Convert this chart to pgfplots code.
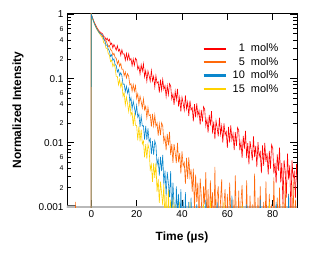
\documentclass[border=0pt]{standalone}
\usepackage{pgfplots}
\pgfplotsset{compat=1.18}
\usepackage{fontspec}
\setmainfont{Liberation Sans}
\definecolor{cRed}{RGB}{255,0,0}
\definecolor{cOrange}{RGB}{255,105,10}
\definecolor{cBlue}{RGB}{10,135,205}
\definecolor{cYellow}{RGB}{255,210,0}
\begin{document}
\begin{tikzpicture}
\begin{axis}[
 at={(67bp,49bp)}, anchor=south west,
 scale only axis, width=230bp, height=194bp,
 ymode=log, xmin=-10.7, xmax=90.7, ymin=0.001, ymax=1.05,
 xtick={0,20,40,60,80},
 ytick={0.001,0.01,0.1,1}, yticklabels={0.001,0.01,0.1,1},
 extra y ticks={0.002,0.004,0.006,0.02,0.04,0.06,0.2,0.4,0.6},
 extra y tick labels={2,4,6,2,4,6,2,4,6},
 extra y tick style={major tick length=4bp, tick label style={font=\fontsize{7}{8}\selectfont}},
 major tick length=7bp, minor tick length=4bp,
 tick align=inside,
 tick style={black, line width=0.6pt},
 axis line style={line width=0.8pt},
 tick label style={font=\fontsize{10}{12}\selectfont},
 /pgf/number format/assume math mode=true,
 xlabel={Time (µs)}, ylabel={Normalized Intensity},
 label style={font=\fontsize{12}{14}\selectfont\bfseries},
 xlabel style={at={(axis description cs:0.5,-0.155)}, anchor=center},
 ylabel style={at={(axis description cs:-0.213,0.5)}, anchor=center},
 legend cell align=right,
 legend style={draw=none, fill=none, at={(axis description cs:0.575,0.862)}, anchor=north west, font=\fontsize{11}{13}\selectfont},
]
\addplot[gray!55, line width=2pt, forget plot] coordinates {(-12,0.001)(92,0.001)};
\addplot[gray!75!black, line width=1pt, forget plot] coordinates {(-10.7,0.00104)(-6.8,0.00104)};
% 1 mol%
\addplot[cRed, line width=0.6pt, forget plot] coordinates {
(-11,0.0002)(-0.1,0.0002)(0,1.0)(0.5,0.9)(1,0.80)(1.5,0.73)(2,0.67)(2.5,0.62)(3,0.58)(3.5,0.55)(4,0.53)(4.5,0.51)
(5,0.497)(5.5,0.448)(6,0.445)(6.5,0.399)(7,0.426)(7.5,0.385)(8,0.410)(8.5,0.338)(9,0.357)(9.5,0.299)
(10,0.339)(10.5,0.309)(11,0.277)(11.5,0.326)(12,0.268)(12.5,0.286)(13,0.231)(13.5,0.281)(14,0.240)(14.5,0.243)
(15,0.193)(15.5,0.247)(16,0.196)(16.5,0.242)(17,0.193)(17.5,0.206)(18,0.159)(18.5,0.202)(19,0.161)(19.5,0.208)
(20,0.195)(20.5,0.139)(21,0.155)(21.5,0.1176)(22,0.164)(22.5,0.130)(23,0.170)(23.5,0.1064)(24,0.133)(24.5,0.091)
(25,0.1315)(25.5,0.111)(26,0.0907)(26.5,0.1336)(27,0.0918)(27.5,0.1085)(28,0.0738)(28.5,0.111)(29,0.0845)(29.5,0.0894)
(30,0.0605)(30.5,0.0965)(31,0.066)(31.5,0.0968)(32,0.068)(32.5,0.0775)(33,0.0524)(33.5,0.0778)(34,0.0559)(34.5,0.0838)
(35,0.0773)(35.5,0.048)(36,0.0571)(36.5,0.0391)(37,0.0639)(37.5,0.0467)(38,0.0693)(38.5,0.0366)(39,0.0507)(39.5,0.0305)
(40,0.0513)(40.5,0.0414)(41,0.0321)(41.5,0.0548)(42,0.0337)(42.5,0.0429)(43,0.0261)(43.5,0.0455)(44,0.0323)(44.5,0.0353)
(45,0.0216)(45.5,0.040)(46,0.0248)(46.5,0.0411)(47,0.0264)(47.5,0.0316)(48,0.0192)(48.5,0.0324)(49,0.0214)(49.5,0.0365)
(50,0.0333)(50.5,0.0183)(51,0.0231)(51.5,0.0144)(52,0.0273)(52.5,0.01855)(53,0.031)(53.5,0.01396)(54,0.02135)(54.5,0.01144)
(55,0.0221)(55.5,0.0171)(56,0.01256)(56.5,0.02456)(57,0.0136)(57.5,0.0184)(58,0.0101)(58.5,0.0201)(59,0.0133)(59.5,0.01494)
(60,0.00833)(60.5,0.01766)(61,0.01004)(61.5,0.01866)(62,0.01104)(62.5,0.01387)(63,0.00772)(63.5,0.01466)(64,0.00897)(64.5,0.0173)
(65,0.01563)(65.5,0.00764)(66,0.01027)(66.5,0.00582)(67,0.01285)(67.5,0.00807)(68,0.01535)(68.5,0.00578)(69,0.0099)(69.5,0.0046)
(70,0.0106)(70.5,0.00774)(71,0.00531)(71.5,0.01256)(72,0.006)(72.5,0.00891)(73,0.00419)(73.5,0.01024)(74,0.0061)(74.5,0.00717)
(75,0.00338)(75.5,0.0091)(76,0.00439)(76.5,0.00993)(77,0.00505)(77.5,0.00685)(78,0.00321)(78.5,0.00748)(79,0.00397)(79.5,0.0094)
(80,0.00832)(80.5,0.0033)(81,0.00488)(81.5,0.00235)(82,0.00662)(82.5,0.00366)(83,0.00843)(83.5,0.00242)(84,0.00486)(84.5,0.0011)
(85,0.00537)(85.5,0.00362)(86,0.0014)(86.5,0.00677)(87,0.00268)(87.5,0.00444)(88,0.0009)(88.5,0.00533)(89,0.00281)(89.5,0.00346)
(90,0.00137)(90.5,0.00469)(91,0.002)};
% 5 mol%
\addplot[cOrange, line width=0.6pt, forget plot] coordinates {
(-11,0.0002)(-7.3,0.0002)(-7,0.0012)(-6.7,0.0002)(-0.1,0.0002)(0,1.0)(0.5,0.89)(1,0.79)(1.5,0.72)(2,0.66)(2.5,0.61)(3,0.57)(3.5,0.53)(4,0.51)(4.5,0.48)
(5,0.451)(5.5,0.441)(6,0.3835)(6.5,0.3895)(7,0.3525)(7.5,0.3155)(8,0.328)(8.5,0.2796)(9,0.276)(9.5,0.232)
(10,0.2477)(10.5,0.2145)(11,0.2064)(11.5,0.1693)(12,0.190)(12.5,0.155)(13,0.1714)(13.5,0.1397)(14,0.1402)(14.5,0.1107)
(15,0.1266)(15.5,0.1019)(16,0.119)(16.5,0.1088)(17,0.0798)(17.5,0.0834)(18,0.0636)(18.5,0.0807)(19,0.0636)(19.5,0.0775)
(20,0.0492)(20.5,0.0579)(21,0.0394)(21.5,0.0532)(22,0.0438)(22.5,0.0348)(23,0.0486)(23.5,0.0327)(24,0.0372)(24.5,0.0245)
(25,0.0356)(25.5,0.0264)(26,0.0273)(26.5,0.0178)(27,0.0282)(27.5,0.01847)(28,0.027)(28.5,0.0181)(29,0.02035)(29.5,0.0129)
(30,0.01956)(30.5,0.0132)(31,0.0205)(31.5,0.01837)(32,0.0103)(32.5,0.0124)(33,0.00766)(33.5,0.0137)(34,0.00912)(34.5,0.01474)
(35,0.00641)(35.5,0.0096)(36,0.00485)(36.5,0.0095)(37,0.00699)(37.5,0.00483)(38,0.01)(38.5,0.00497)(39,0.00688)(39.5,0.00331)
(40,0.00733)(40.5,0.00436)(41,0.00491)(41.5,0.0023)(42,0.0058)(42.5,0.00274)(43,0.00595)(43.5,0.00294)(44,0.00386)(44.5,0.00173)
(45,0.00397)(45.5,0.0009)(46,0.0032)(46.5,0.0012)(47,0.0024)(47.5,0.0004)(48,0.0028)(48.5,0.0015)(49,0.0003)(49.5,0.0021)
(50,0.0011)(50.5,0.0035)(51,0.0005)(51.5,0.0019)(52,0.0003)(52.5,0.0026)(53,0.0009)(53.5,0.0017)(54,0.0003)(54.5,0.0042)
(55,0.0004)(55.5,0.0015)(56,0.0021)(56.5,0.0003)(57,0.0013)(57.5,0.0027)(58,0.0003)(58.5,0.0011)(59,0.0019)(59.5,0.0003)
(60,0.0016)(60.5,0.0003)(61,0.0024)(61.5,0.0008)(62,0.0003)(62.5,0.0013)(63,0.0003)(63.5,0.0031)(64,0.0006)(64.5,0.0003)
(65,0.0018)(65.5,0.0003)(66,0.0012)(66.5,0.0022)(67,0.0003)(67.5,0.0009)(68,0.0003)(68.5,0.0026)(69,0.0004)(69.5,0.0003)
(70,0.0015)(70.5,0.0003)(71,0.0011)(71.5,0.0003)(72,0.0033)(72.5,0.0005)(73,0.0003)(73.5,0.0014)(74,0.0003)(74.5,0.0021)
(75,0.0003)(75.5,0.0003)(76,0.0012)(76.5,0.0003)(77,0.0025)(77.5,0.0004)(78,0.0003)(78.5,0.0016)(79,0.0003)(79.5,0.0011)
(80,0.0003)(80.5,0.0029)(81,0.0003)(81.5,0.0003)(82,0.0014)(82.5,0.0003)(83,0.0020)(83.5,0.0004)(84,0.0003)(84.5,0.0012)
(85,0.0003)(85.5,0.0024)(86,0.0003)(86.5,0.0003)(87,0.0016)(87.5,0.0003)(88,0.0011)(88.5,0.0003)(89,0.0027)(89.5,0.0003)
(90,0.0013)(90.5,0.0003)(91,0.0003)};
% 15 mol%
\addplot[cYellow, line width=0.6pt, forget plot] coordinates {
(-11,0.0002)(-0.1,0.0002)(0,1.0)(0.5,0.87)(1,0.77)(1.5,0.69)(2,0.63)(2.5,0.58)(3,0.54)(3.5,0.51)(4,0.48)(4.5,0.45)
(5,0.427)(5.5,0.36)(6,0.3568)(6.5,0.2965)(7,0.2976)(7.5,0.2445)(8,0.2318)(8.5,0.1833)(9,0.1938)(9.5,0.1543)
(10,0.1684)(10.5,0.1493)(11,0.1081)(11.5,0.1079)(12,0.08)(12.5,0.0969)(13,0.0738)(13.5,0.0868)(14,0.0528)(14.5,0.0603)
(15,0.0389)(15.5,0.0518)(16,0.0407)(16.5,0.0307)(17,0.0431)(17.5,0.0269)(18,0.0302)(18.5,0.0183)(19,0.0273)(19.5,0.01865)
(20,0.01868)(20.5,0.01094)(21,0.01804)(21.5,0.01057)(22,0.01603)(22.5,0.00959)(23,0.01066)(23.5,0.00594)(24,0.0095)(24.5,0.00568)
(25,0.00937)(25.5,0.00792)(26,0.00379)(26.5,0.00458)(27,0.00247)(27.5,0.00483)(28,0.00285)(28.5,0.00491)(29,0.00173)(29.5,0.00273)
(30,0.00116)(30.5,0.00248)(31,0.00167)(31.5,0.00106)(32,0.00227)(32.5,0.0006)(33,0.0016)(33.5,0.0003)(34,0.0019)(34.5,0.0005)
(35,0.0013)(35.5,0.0003)(36,0.0015)(36.5,0.0003)(37,0.0011)(37.5,0.0003)(38.5,0.0003)(39,0.0012)(39.5,0.0003)
(43,0.0003)(43.5,0.0012)(44,0.0003)(49,0.0003)(49.5,0.0011)(50,0.0003)(52,0.0003)(52.5,0.0013)(53,0.0003)
(58,0.0003)(58.5,0.0012)(59,0.0003)(66,0.0003)(66.5,0.0011)(67,0.0003)(78,0.0003)(78.5,0.0012)(79,0.0003)(91,0.0003)};
% 10 mol%
\addplot[cBlue, line width=0.6pt, forget plot] coordinates {
(-11,0.0002)(-0.1,0.0002)(0,1.0)(0.5,0.88)(1,0.78)(1.5,0.70)(2,0.64)(2.5,0.59)(3,0.555)(3.5,0.52)(4,0.50)(4.5,0.485)
(5,0.476)(5.5,0.410)(6,0.390)(6.5,0.3295)(7,0.334)(7.5,0.2873)(8,0.2692)(8.5,0.2208)(9,0.2356)(9.5,0.1918)
(10,0.2028)(10.5,0.1648)(11,0.1603)(11.5,0.1264)(12,0.1382)(12.5,0.1107)(13,0.1236)(13.5,0.1109)(14,0.0815)(14.5,0.0825)
(15,0.0627)(15.5,0.0759)(16,0.0593)(16.5,0.0697)(17,0.0441)(17.5,0.0504)(18,0.0338)(18.5,0.0444)(19,0.0358)(19.5,0.0278)
(20,0.0382)(20.5,0.025)(21,0.028)(21.5,0.0177)(22,0.026)(22.5,0.0183)(23,0.0185)(23.5,0.01124)(24,0.0183)(24.5,0.01108)
(25,0.01675)(25.5,0.01032)(26,0.01157)(26.5,0.00664)(27,0.0106)(27.5,0.00651)(28,0.01078)(28.5,0.00927)(29,0.00455)(29.5,0.00556)
(30,0.00307)(30.5,0.00605)(31,0.00362)(31.5,0.00646)(32,0.00224)(32.5,0.00367)(33,0.00151)(33.5,0.00352)(34,0.00234)(34.5,0.00142)
(35,0.00363)(35.5,0.0007)(36,0.0024)(36.5,0.0011)(37,0.0003)(37.5,0.0021)(38,0.0008)(38.5,0.0016)(39,0.0003)(39.5,0.0019)
(40,0.0005)(40.5,0.0013)(41,0.0003)(41.5,0.0017)(42,0.0003)(42.5,0.0003)(43,0.0012)(43.5,0.0003)(44,0.0014)(44.5,0.0003)
(46,0.0003)(46.5,0.0011)(47,0.0003)(50,0.0003)(50.5,0.0013)(51,0.0003)(55,0.0003)(55.5,0.0012)(56,0.0003)
(61.5,0.0003)(62,0.0015)(62.5,0.0003)(68,0.0003)(68.5,0.0011)(69,0.0003)(74,0.0003)(74.5,0.0013)(75,0.0003)
(81,0.0003)(81.5,0.0012)(82,0.0003)(86.5,0.0003)(87,0.0016)(87.5,0.0003)(91,0.0003)};
\addlegendimage{legend image code/.code={\draw[draw=cRed, line width=2.2pt] (0bp,0bp) -- (22bp,0bp); \path (27bp,0bp);}}
\addlegendentry{\phantom{1}1\ \ mol\%}
\addlegendimage{legend image code/.code={\draw[draw=cOrange, line width=2.2pt] (0bp,0bp) -- (22bp,0bp); \path (27bp,0bp);}}
\addlegendentry{\phantom{1}5\ \ mol\%}
\addlegendimage{legend image code/.code={\draw[draw=cBlue, line width=2.2pt] (0bp,0bp) -- (22bp,0bp); \path (27bp,0bp);}}
\addlegendentry{10\ \ mol\%}
\addlegendimage{legend image code/.code={\draw[draw=cYellow, line width=2.2pt] (0bp,0bp) -- (22bp,0bp); \path (27bp,0bp);}}
\addlegendentry{15\ \ mol\%}
\end{axis}
\pgfresetboundingbox
\path (0,0) rectangle (321bp,256bp);
\end{tikzpicture}
\end{document}
